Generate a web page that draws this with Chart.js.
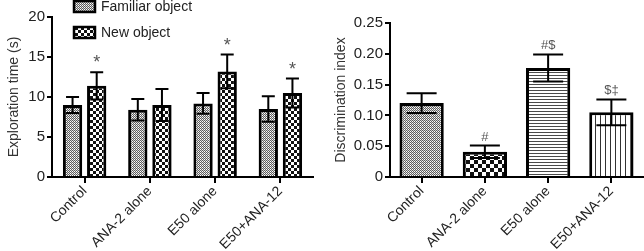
<!DOCTYPE html>
<html>
<head>
<meta charset="utf-8">
<script src="https://cdn.jsdelivr.net/npm/chart.js@4"></script>
<style>
  body { margin: 0; background: #fff; }
  #wrap { position: relative; width: 644px; height: 251px; }
  #left { position: absolute; left: 0; top: 0; }
  #right { position: absolute; left: 330px; top: 0; }
</style>
</head>
<body>
<div id="wrap">
  <canvas id="left" width="330" height="251"></canvas>
  <canvas id="right" width="314" height="251"></canvas>
</div>
<script>
// data
const groups = ['Control', 'ANA-2 alone', 'E50 alone', 'E50+ANA-12'];
const familiarTime = [9.0, 8.4, 9.2, 8.5];
const familiarSem = [1.0, 1.35, 1.3, 1.6];
const newTime = [11.4, 9.0, 13.2, 10.5];
const newSem = [1.7, 2.0, 2.1, 1.8];
const newMarks = ['*', '', '*', '*'];
const timeTicks = [0, 5, 10, 15, 20];

const discIndex = [0.120, 0.041, 0.177, 0.105];
const discSem = [0.016, 0.010, 0.022, 0.021];
const discMarks = ['', '#', '#$', '$‡'];
const discTicks = [0, 0.05, 0.10, 0.15, 0.20, 0.25];

const FONT = '"Liberation Sans", Arial, sans-serif';

// fill patterns
function makePattern(size, draw) {
    const c = document.createElement('canvas');
    c.width = size; c.height = size;
    const g = c.getContext('2d');
    g.fillStyle = '#fff';
    g.fillRect(0, 0, size, size);
    draw(g);
    return g.createPattern(c, 'repeat');
}
const fineDots = makePattern(2, g => {
    g.fillStyle = '#5e5e5e';
    g.fillRect(0, 0, 1, 1);
    g.fillRect(1, 1, 1, 1);
    g.fillStyle = '#cfcfcf';
    g.fillRect(1, 0, 1, 1);
});
const checker3 = makePattern(6, g => {
    g.fillStyle = '#111';
    g.fillRect(0, 0, 3, 3);
    g.fillRect(3, 3, 3, 3);
});
const checker4 = makePattern(8, g => {
    g.fillStyle = '#111';
    g.fillRect(0, 0, 4, 4);
    g.fillRect(4, 4, 4, 4);
});
const hLines = makePattern(3, g => {
    g.fillStyle = '#4a4a4a';
    g.fillRect(0, 0, 3, 1);
});
const vLines = makePattern(5, g => {
    g.fillStyle = '#333';
    g.fillRect(0, 0, 1, 5);
});

// error bars + significance marks
const errorBars = {
    id: 'errorBars',
    afterDatasetsDraw(chart, args, opts) {
        const ctx = chart.ctx;
        const y = chart.scales.y;
        chart.data.datasets.forEach((ds, i) => {
            const meta = chart.getDatasetMeta(i);
            meta.data.forEach((bar, j) => {
                const v = ds.data[j], s = ds.sem[j];
                const top = y.getPixelForValue(v + s);
                const bot = y.getPixelForValue(v - s);
                const hw = opts.cap / 2;
                ctx.save();
                ctx.strokeStyle = '#000';
                ctx.lineWidth = 2;
                ctx.beginPath();
                ctx.moveTo(bar.x, bot); ctx.lineTo(bar.x, top);
                ctx.moveTo(bar.x - hw, top); ctx.lineTo(bar.x + hw, top);
                ctx.moveTo(bar.x - hw, bot); ctx.lineTo(bar.x + hw, bot);
                ctx.stroke();
                if (ds.marks && ds.marks[j]) {
                    ctx.fillStyle = '#555';
                    ctx.font = opts.markFont;
                    ctx.textAlign = 'center';
                    ctx.textBaseline = 'bottom';
                    ctx.fillText(ds.marks[j], bar.x, top - opts.gap);
                }
                ctx.restore();
            });
        });
    }
};

// legend drawn over the top of the left panel
const topLegend = {
    id: 'topLegend',
    afterDraw(chart) {
        const ctx = chart.ctx;
        const items = [[fineDots, 'Familiar object', 1], [checker3, 'New object', 27]];
        ctx.save();
        items.forEach(([fill, text, y0]) => {
            ctx.fillStyle = fill;
            ctx.fillRect(74, y0, 21, 11);
            ctx.strokeStyle = '#000';
            ctx.lineWidth = 2.5;
            ctx.strokeRect(74, y0, 21, 11);
            ctx.fillStyle = '#222';
            ctx.font = '14px ' + FONT;
            ctx.textAlign = 'left';
            ctx.textBaseline = 'middle';
            ctx.fillText(text, 101, y0 + 6);
        });
        ctx.restore();
    }
};

function axisOptions(opts) {
    return {
        x: {
            grid: { drawOnChartArea: false, offset: false, color: '#000', lineWidth: 2, tickLength: 6 },
            border: { display: true, color: '#000', width: 2 },
            ticks: { color: '#222', font: { family: FONT, size: 14 }, minRotation: 45, maxRotation: 45, padding: 0 },
            afterFit: s => { s.height = opts.xHeight; }
        },
        y: {
            min: 0, max: opts.max,
            afterBuildTicks: s => { s.ticks = opts.ticks.map(v => ({ value: v })); },
            grid: { drawOnChartArea: false, color: '#000', lineWidth: 2, tickLength: 5 },
            border: { display: true, color: '#000', width: 2 },
            ticks: { color: '#222', font: { family: FONT, size: 15 }, padding: 2, callback: opts.fmt },
            title: { display: true, text: opts.title, color: '#333', font: { family: FONT, size: 14 },
                     padding: { top: opts.titlePad, bottom: 0 } },
            afterFit: s => { s.width = opts.yWidth; }
        }
    };
}

new Chart(document.getElementById('left'), {
    type: 'bar',
    data: {
        labels: groups,
        datasets: [
            { label: 'Familiar object', data: familiarTime, sem: familiarSem, backgroundColor: fineDots,
              borderColor: '#000', borderWidth: 3, categoryPercentage: 0.74, barPercentage: 0.8 },
            { label: 'New object', data: newTime, sem: newSem, marks: newMarks, backgroundColor: checker3,
              borderColor: '#000', borderWidth: 3, categoryPercentage: 0.74, barPercentage: 0.8 }
        ]
    },
    options: {
        responsive: false,
        animation: false,
        devicePixelRatio: 1,
        layout: { padding: { top: 17, right: 17, left: 0, bottom: 0 } },
        plugins: {
            legend: { display: false },
            tooltip: { enabled: false },
            errorBars: { cap: 13, gap: 0, markFont: '18px ' + FONT }
        },
        scales: axisOptions({ max: 20, ticks: timeTicks, title: 'Exploration time (s)',
            fmt: v => String(v), yWidth: 52, xHeight: 74, titlePad: 6 })
    },
    plugins: [errorBars, topLegend]
});

new Chart(document.getElementById('right'), {
    type: 'bar',
    data: {
        labels: groups,
        datasets: [
            { label: 'Discrimination index', data: discIndex, sem: discSem, marks: discMarks,
              backgroundColor: [fineDots, checker4, hLines, vLines],
              borderColor: '#000', borderWidth: 3, categoryPercentage: 0.7, barPercentage: 1 }
        ]
    },
    options: {
        responsive: false,
        animation: false,
        devicePixelRatio: 1,
        layout: { padding: { top: 23, right: 1, left: 0, bottom: 0 } },
        plugins: {
            legend: { display: false },
            tooltip: { enabled: false },
            errorBars: { cap: 30, gap: 2, markFont: '13px ' + FONT }
        },
        scales: axisOptions({ max: 0.25, ticks: discTicks, title: 'Discrimination index',
            fmt: v => v === 0 ? '0' : v.toFixed(2), yWidth: 60, xHeight: 74, titlePad: 3 })
    },
    plugins: [errorBars]
});
</script>
</body>
</html>
